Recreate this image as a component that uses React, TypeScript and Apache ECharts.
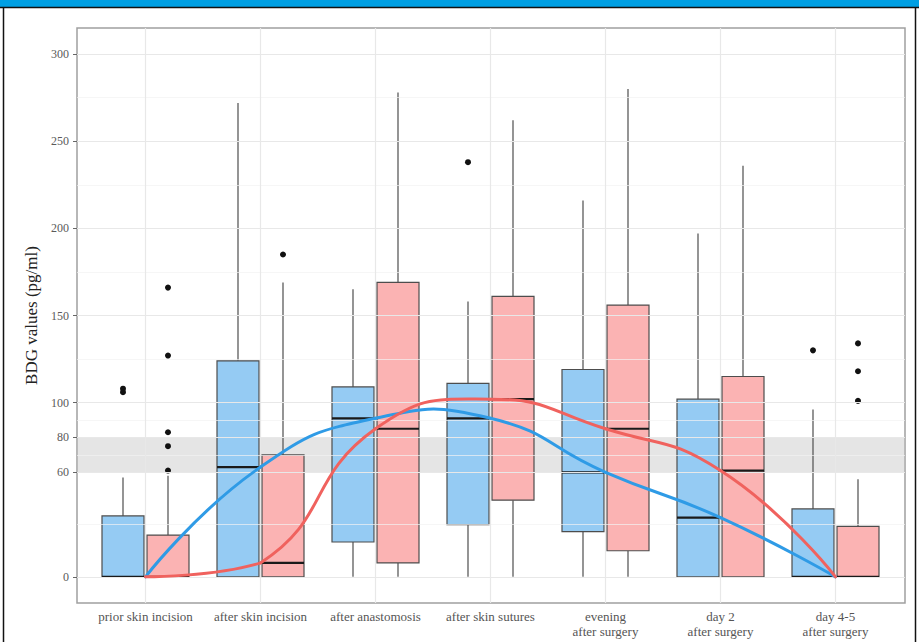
import React, { useEffect, useRef } from "react";
import * as echarts from "echarts";

const categories = [
  "prior skin incision",
  "after skin incision",
  "after anastomosis",
  "after skin sutures",
  "evening\nafter surgery",
  "day 2\nafter surgery",
  "day 4-5\nafter surgery",
];
const yTicks = [0, 60, 80, 100, 150, 200, 250, 300];
const yMinor = [30, 70, 90, 125, 175, 225, 275];
const refBand = [60, 80];

// [lower whisker, Q1, median, Q3, upper whisker]
const blueBoxes = [
  [0, 0, 0, 35, 57],
  [0, 0, 63, 124, 272],
  [0, 20, 91, 109, 165],
  [0, 30, 91, 111, 158],
  [0, 26, 60, 119, 216],
  [0, 0, 34, 102, 197],
  [0, 0, 0, 39, 96],
];
const pinkBoxes = [
  [0, 0, 0, 24, 58],
  [0, 0, 8, 70, 169],
  [0, 8, 85, 169, 278],
  [0, 44, 102, 161, 262],
  [0, 15, 85, 156, 280],
  [0, 0, 61, 115, 236],
  [0, 0, 0, 29, 56],
];
// [category index, value]
const blueOutliers = [
  [0, 108],
  [0, 106],
  [3, 238],
  [6, 130],
];
const pinkOutliers = [
  [0, 166],
  [0, 127],
  [0, 83],
  [0, 75],
  [0, 61],
  [1, 185],
  [6, 134],
  [6, 118],
  [6, 101],
];

const BLUE_FILL = "#95cbf3";
const PINK_FILL = "#fbb3b3";
const BLUE_LINE = "#2f9be6";
const PINK_LINE = "#f0625e";
const OFFSET = 22.5 / 115;
const BOXW = 42 / 115;
const SERIF = "'Liberation Serif', 'Times New Roman', serif";

function boxRenderer(fill: string, sign: number) {
  return (params: any, api: any) => {
    const i = api.value(0);
    const bw = api.size([1, 0])[0];
    const cx = api.coord([i, 0])[0] + sign * OFFSET * bw;
    const hw = (BOXW * bw) / 2;
    const y = (k: number) => api.coord([i, api.value(k)])[1];
    const yMin = y(1), yQ1 = y(2), yMed = y(3), yQ3 = y(4), yMax = y(5);
    return {
      type: "group",
      children: [
        { type: "line", shape: { x1: cx, y1: yQ1, x2: cx, y2: yMin }, style: { stroke: "#4d4d4d", lineWidth: 1.2 } },
        { type: "line", shape: { x1: cx, y1: yQ3, x2: cx, y2: yMax }, style: { stroke: "#4d4d4d", lineWidth: 1.2 } },
        {
          type: "rect",
          shape: { x: cx - hw, y: yQ3, width: 2 * hw, height: Math.max(yQ1 - yQ3, 0.5) },
          style: { fill, stroke: "#4d4d4d", lineWidth: 1.2 },
        },
        { type: "line", shape: { x1: cx - hw, y1: yMed, x2: cx + hw, y2: yMed }, style: { stroke: "#1a1a1a", lineWidth: 2.2 } },
      ],
    };
  };
}

function outlierRenderer(sign: number) {
  return (params: any, api: any) => {
    const i = api.value(0);
    const bw = api.size([1, 0])[0];
    const p = api.coord([i, api.value(1)]);
    return {
      type: "circle",
      shape: { cx: p[0] + sign * OFFSET * bw, cy: p[1], r: 3 },
      style: { fill: "#111" },
    };
  };
}

// smooth curve through the medians, drawn segment by segment with the axes' scales
function curveRenderer(values: number[], color: string) {
  return (params: any, api: any) => {
    const i = api.value(0);
    if (i >= values.length - 1) return null;
    const P = values.map((v, k) => api.coord([k, v]));
    const base = api.coord([0, 0])[1];
    const s = 0.5;
    const cps = (k: number) => {
      if (k === 0 || k === P.length - 1) return [P[k], P[k]];
      const prev = P[k - 1], next = P[k + 1], p = P[k];
      const vx = (next[0] - prev[0]) * s, vy = (next[1] - prev[1]) * s;
      let d0 = Math.hypot(p[0] - prev[0], p[1] - prev[1]);
      let d1 = Math.hypot(next[0] - p[0], next[1] - p[1]);
      const sum = d0 + d1 || 1;
      d0 /= sum;
      d1 /= sum;
      return [
        [p[0] - vx * d0, Math.min(p[1] - vy * d0, base)],
        [p[0] + vx * d1, Math.min(p[1] + vy * d1, base)],
      ];
    };
    const a = P[i], b = P[i + 1];
    const c1 = cps(i)[1], c2 = cps(i + 1)[0];
    return {
      type: "bezierCurve",
      shape: { x1: a[0], y1: a[1], x2: b[0], y2: b[1], cpx1: c1[0], cpy1: c1[1], cpx2: c2[0], cpy2: c2[1] },
      style: { stroke: color, lineWidth: 3, fill: null, lineCap: "round" },
    };
  };
}

export default function App() {
  const ref = useRef<HTMLDivElement>(null);
  useEffect(() => {
    document.body.style.margin = "0";
    const chart = echarts.init(ref.current!, undefined, { renderer: "svg" });
    const blueData = blueBoxes.map((b, i) => [i, ...b]);
    const pinkData = pinkBoxes.map((b, i) => [i, ...b]);
    const blueMed = blueBoxes.map((b) => b[2]);
    const pinkMed = pinkBoxes.map((b) => b[2]);
    const option: any = {
      animation: false,
      backgroundColor: "#fff",
      grid: [
        { left: 77, right: 14, top: 28, bottom: 39, show: true, borderColor: "#a0a0a0", borderWidth: 1.5, backgroundColor: "#fff" },
        { left: 88, right: 26, top: 28, bottom: 39, show: false },
      ],
      xAxis: [
        { type: "value", gridIndex: 0, min: 0, max: 1, show: false },
        {
          type: "category",
          gridIndex: 1,
          data: categories,
          axisLine: { show: false },
          axisTick: { show: true, alignWithLabel: true, length: 4, lineStyle: { color: "#666" } },
          axisLabel: { interval: 0, fontFamily: SERIF, fontSize: 13, color: "#555", margin: 6, lineHeight: 15 },
          splitLine: { show: false },
        },
      ],
      yAxis: [
        {
          type: "value",
          gridIndex: 0,
          min: -15,
          max: 315,
          interval: 5,
          axisLine: { show: false },
          axisTick: { show: true, customValues: yTicks, length: 4, lineStyle: { color: "#666" } },
          axisLabel: {
            fontFamily: SERIF,
            fontSize: 12,
            color: "#5a5a5a",
            margin: 8,
            formatter: (v: number) => (yTicks.indexOf(Math.round(v)) >= 0 && Math.abs(v - Math.round(v)) < 1e-6 ? String(Math.round(v)) : ""),
          },
          splitLine: { show: false },
          name: "BDG values (pg/ml)",
          nameLocation: "middle",
          nameGap: 36,
          nameTextStyle: { fontFamily: SERIF, fontSize: 17, color: "#222" },
        },
        { type: "value", gridIndex: 1, min: -15, max: 315, show: false },
      ],
      graphic: [
        { type: "rect", shape: { x: 0, y: 0, width: 919, height: 7 }, style: { fill: "#009fe3" }, z: 100 },
        { type: "line", shape: { x1: 0, y1: 7.5, x2: 919, y2: 7.5 }, style: { stroke: "#111", lineWidth: 1.5 }, z: 100 },
        { type: "line", shape: { x1: 3.5, y1: 7, x2: 3.5, y2: 642 }, style: { stroke: "#111", lineWidth: 1.5 }, z: 100 },
        { type: "line", shape: { x1: 915.5, y1: 7, x2: 915.5, y2: 642 }, style: { stroke: "#111", lineWidth: 1.5 }, z: 100 },
      ],
      series: [
        {
          type: "scatter",
          xAxisIndex: 0,
          yAxisIndex: 0,
          data: [],
          silent: true,
          z: 1,
          markLine: {
            silent: true,
            symbol: ["none", "none"],
            label: { show: false },
            data: [
              ...yMinor.map((v) => ({ yAxis: v, lineStyle: { color: "#f2f2f2", width: 0.7, type: "solid" } })),
              ...yTicks.map((v) => ({ yAxis: v, lineStyle: { color: "#e8e8e8", width: 1.2, type: "solid" } })),
            ],
          },
        },
        {
          type: "scatter",
          xAxisIndex: 1,
          yAxisIndex: 1,
          data: [],
          silent: true,
          z: 1,
          markLine: {
            silent: true,
            symbol: ["none", "none"],
            label: { show: false },
            lineStyle: { color: "#e8e8e8", width: 1.2, type: "solid" },
            data: categories.map((c, i) => ({ xAxis: i })),
          },
        },
        {
          type: "scatter",
          xAxisIndex: 0,
          yAxisIndex: 0,
          data: [],
          silent: true,
          z: 2,
          markArea: {
            silent: true,
            itemStyle: { color: "rgba(190,190,190,0.4)" },
            data: [[{ yAxis: refBand[0] }, { yAxis: refBand[1] }]],
          },
        },
        {
          type: "custom",
          name: "blue",
          xAxisIndex: 1,
          yAxisIndex: 1,
          data: blueData,
          encode: { x: 0, y: [1, 2, 3, 4, 5] },
          renderItem: boxRenderer(BLUE_FILL, -1),
          z: 3,
        },
        {
          type: "custom",
          name: "pink",
          xAxisIndex: 1,
          yAxisIndex: 1,
          data: pinkData,
          encode: { x: 0, y: [1, 2, 3, 4, 5] },
          renderItem: boxRenderer(PINK_FILL, 1),
          z: 3,
        },
        {
          type: "custom",
          xAxisIndex: 1,
          yAxisIndex: 1,
          data: blueOutliers,
          encode: { x: 0, y: 1 },
          renderItem: outlierRenderer(-1),
          z: 4,
        },
        {
          type: "custom",
          xAxisIndex: 1,
          yAxisIndex: 1,
          data: pinkOutliers,
          encode: { x: 0, y: 1 },
          renderItem: outlierRenderer(1),
          z: 4,
        },
        {
          type: "custom",
          xAxisIndex: 1,
          yAxisIndex: 1,
          data: blueMed.map((v, i) => [i, v]),
          encode: { x: 0, y: 1 },
          renderItem: curveRenderer(blueMed, BLUE_LINE),
          z: 5,
        },
        {
          type: "custom",
          xAxisIndex: 1,
          yAxisIndex: 1,
          data: pinkMed.map((v, i) => [i, v]),
          encode: { x: 0, y: 1 },
          renderItem: curveRenderer(pinkMed, PINK_LINE),
          z: 5,
        },
      ],
    };
    chart.setOption(option);
    return () => chart.dispose();
  }, []);
  return <div ref={ref} style={{ position: "absolute", left: 0, top: 0, width: 919, height: 642 }} />;
}
